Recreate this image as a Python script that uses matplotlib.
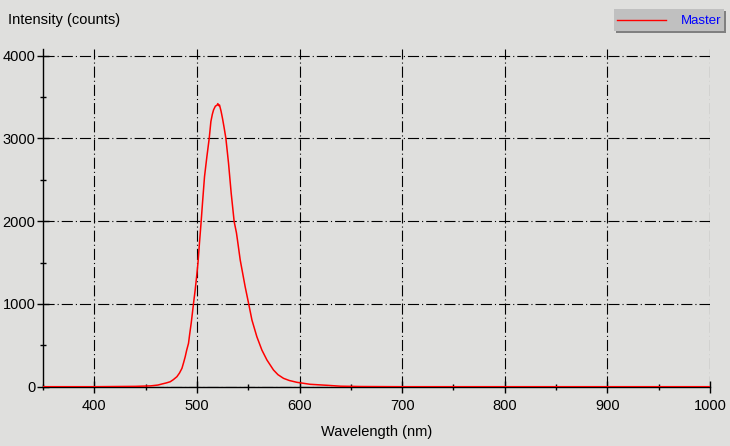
import matplotlib.pyplot as plt
from matplotlib.patches import Rectangle
from matplotlib.lines import Line2D
from matplotlib.ticker import MultipleLocator

plt.rcParams['font.family'] = ['Liberation Sans', 'DejaVu Sans']

# spectrum (nm, counts)
wavelength = [350, 380, 400, 420, 440, 455, 462, 466, 470, 474, 477, 480.5, 483,
              485.4, 487, 488.6, 490, 491.8, 493, 494.4, 495.5, 496.7, 498.3,
              499.7, 501, 502.5, 503.9, 505.5, 507.4, 509.7, 512, 513.6, 515,
              516.2, 518, 519.5, 520.4, 521.2, 522, 523.5, 524.9, 526.5, 528.2,
              530.8, 533.4, 536.3, 538.5, 539.5, 542.2, 547, 550.3, 553.6, 558.4,
              563.3, 568.2, 574.6, 579, 584.4, 590, 597.4, 610.3, 626.6, 640,
              660, 700, 800, 900, 1000]
intensity = [0, 0, 0, 2, 4, 10, 20, 33, 45, 60, 85, 121, 165,
             222, 290, 363, 440, 524, 640, 766, 880, 1008, 1169,
             1330, 1491, 1740, 1960, 2230, 2538, 2779, 3002, 3203, 3290,
             3344, 3390, 3400, 3420, 3395, 3404, 3330, 3243, 3130, 3002,
             2700, 2337, 1994, 1860, 1773, 1530, 1208, 1010, 806, 604,
             443, 323, 202, 145, 101, 75, 53, 29, 17, 6,
             2, 0, 0, 0, 0]

x_ticks = [400, 500, 600, 700, 800, 900, 1000]
y_ticks = [0, 1000, 2000, 3000, 4000]

bg = '#dfdfdd'
fig = plt.figure(figsize=(7.3, 4.46), dpi=100, facecolor=bg)
ax = fig.add_axes([43 / 730, 59.3 / 446, 667 / 730, 337.7 / 446])
ax.set_facecolor(bg)

ax.plot(wavelength, intensity, color='#ff0000', linewidth=1.1, zorder=3)

ax.set_xlim(350, 1000)
ax.set_ylim(0, 4080)
ax.set_xticks(x_ticks)
ax.set_yticks(y_ticks)
ax.xaxis.set_minor_locator(MultipleLocator(50))
ax.yaxis.set_minor_locator(MultipleLocator(500))

for s in ['top', 'right']:
    ax.spines[s].set_visible(False)
for s in ['left', 'bottom']:
    ax.spines[s].set_color('black')
    ax.spines[s].set_linewidth(1.0)

ax.tick_params(axis='both', which='major', direction='inout', length=8,
               width=1, colors='black', labelsize=10.5)
ax.tick_params(axis='both', which='minor', direction='inout', length=5,
               width=1, colors='black')
ax.tick_params(axis='x', which='major', pad=5)
ax.tick_params(axis='y', which='major', pad=1.5)

ax.grid(True, which='major', color='black', linewidth=0.8,
        linestyle=(0, (10, 2.7, 1, 2.7)))
ax.set_axisbelow(True)

fig.text(8 / 730, 1 - 20 / 446, 'Intensity (counts)', fontsize=10.5,
         va='center', ha='left')
fig.text(376.5 / 730, 1 - 432 / 446, 'Wavelength (nm)', fontsize=10.5,
         va='center', ha='center')

# legend button, top right
W, H = 730, 446
fig.patches.append(Rectangle((616 / W, 1 - 33 / H), 110 / W, 22 / H,
                             transform=fig.transFigure, facecolor='#808080',
                             edgecolor='none'))
fig.patches.append(Rectangle((614 / W, 1 - 31 / H), 110 / W, 22 / H,
                             transform=fig.transFigure, facecolor='#c0c0c0',
                             edgecolor='none'))
fig.lines.append(Line2D([617 / W, 666 / W], [1 - 19.5 / H, 1 - 19.5 / H],
                        transform=fig.transFigure, color='#ff0000', linewidth=1))
fig.text(721 / W, 1 - 20.5 / H, 'Master', fontsize=9.5, color='#0000ff',
         ha='right', va='center')

fig.savefig('out.png', dpi=100, facecolor=bg)
